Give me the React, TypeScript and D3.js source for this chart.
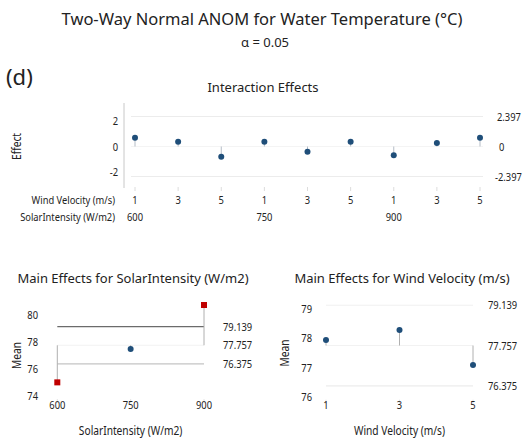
import React from "react";
import * as d3 from "d3";

// ---- data ----
const windLevels = [1, 3, 5];
const solarLevels = [600, 750, 900];
// interaction effects, ordered SolarIntensity-major (600: 1,3,5; 750: 1,3,5; 900: 1,3,5)
const interactionEffects = [0.7, 0.38, -0.82, 0.38, -0.42, 0.38, -0.7, 0.28, 0.7];
const effectLimit = 2.397;
const effectTicks = [-2, 0, 2];
const solarMeans = [75.01, 77.48, 80.74];
const windMeans = [77.95, 78.29, 77.09];
const grandMean = 77.757;
const upperLimit = 79.139;
const lowerLimit = 76.375;
const solarMeanTicks = [74, 76, 78, 80];
const windMeanTicks = [76, 77, 78, 79];

const FONT = "'Noto Sans', 'Open Sans', sans-serif";
const TFONT = "'Noto Sans', 'Open Sans', sans-serif";
const BLUE = "#1f4e79";
const RED = "#c00000";
const TXT = "#222";
const SQUEEZE = 0.85;

function fmt(v: number) {
  return v.toFixed(3);
}

type NTProps = {
  x: number;
  y: number;
  anchor?: "start" | "middle" | "end";
  size?: number;
  rotate?: number;
  children: React.ReactNode;
};

// narrow text: squeezed horizontally like the reference's condensed UI font
function NText({ x, y, anchor = "start", size = 11, rotate = 0, children }: NTProps) {
  const tr = rotate
    ? `translate(${x},${y}) rotate(${rotate}) scale(${SQUEEZE},1)`
    : `translate(${x},${y}) scale(${SQUEEZE},1)`;
  return (
    <text transform={tr} textAnchor={anchor} fontFamily={FONT} fontSize={size} fill={TXT}>
      {children}
    </text>
  );
}

function InteractionPanel() {
  const idx = interactionEffects.map((_, i) => i);
  const x = d3.scalePoint<number>().domain(idx).range([135, 480]);
  const y = d3.scaleLinear().domain([-effectLimit, effectLimit]).range([176.5, 116.5]);
  const x0 = 131, x1 = 483;
  return (
    <g>
      <text x={263} y={92} textAnchor="middle" fontFamily={TFONT} fontSize={13} fill={TXT}>
        Interaction Effects
      </text>
      <line x1={124} x2={124} y1={103} y2={188} stroke="#c8c8c8" />
      {effectTicks.map((t) => (
        <NText key={t} x={118} y={y(t) + 4} anchor="end">
          {t}
        </NText>
      ))}
      <NText x={21} y={y(0)} anchor="middle" size={12} rotate={-90}>
        Effect
      </NText>
      {[effectLimit, -effectLimit].map((l) => (
        <line key={l} x1={x0} x2={x1} y1={y(l)} y2={y(l)} stroke="#ececec" />
      ))}
      <line x1={x0} x2={x1} y1={y(0)} y2={y(0)} stroke="#f4f4f4" />
      <NText x={497} y={y(effectLimit) + 4}>{fmt(effectLimit)}</NText>
      <NText x={499} y={y(0) + 4}>0</NText>
      <NText x={495} y={y(-effectLimit) + 4}>{fmt(-effectLimit)}</NText>
      {interactionEffects.map((v, i) => (
        <g key={i}>
          <line x1={x(i)} x2={x(i)} y1={y(0)} y2={y(v)} stroke="#b4bcc6" />
          <circle cx={x(i)} cy={y(v)} r={3} fill={BLUE} />
          <line x1={x(i)} x2={x(i)} y1={187} y2={191} stroke="#dcdcdc" />
          <NText x={x(i)!} y={204} anchor="middle">
            {windLevels[i % windLevels.length]}
          </NText>
        </g>
      ))}
      {solarLevels.map((s, j) => (
        <NText key={s} x={x(j * windLevels.length)!} y={221} anchor="middle">
          {s}
        </NText>
      ))}
      <NText x={115} y={204} anchor="end">Wind Velocity (m/s)</NText>
      <NText x={115} y={221} anchor="end">SolarIntensity (W/m2)</NText>
    </g>
  );
}

type MainProps = {
  title: string;
  levels: number[];
  means: number[];
  ticks: number[];
  xTitle: string;
  xRange: [number, number];
  yDomain: [number, number];
  yRange: [number, number];
  titleX: number;
  tickX: number;
  meanX: number;
  labelX: number;
  upperStroke: string;
  lowerStroke: string;
};

function MainPanel(p: MainProps) {
  const x = d3.scalePoint<number>().domain(p.levels).range(p.xRange);
  const y = d3.scaleLinear().domain(p.yDomain).range(p.yRange);
  const lx0 = p.xRange[0], lx1 = p.xRange[1];
  const midY = (p.yRange[0] + p.yRange[1]) / 2;
  return (
    <g>
      <text x={p.titleX} y={283} textAnchor="middle" fontFamily={TFONT} fontSize={13} fill={TXT}>
        {p.title}
      </text>
      {p.ticks.map((t) => (
        <NText key={t} x={p.tickX} y={y(t) + 4} anchor="end">
          {t}
        </NText>
      ))}
      <NText x={p.meanX} y={midY} anchor="middle" size={12} rotate={-90}>
        Mean
      </NText>
      <line x1={lx0} x2={lx1} y1={y(upperLimit)} y2={y(upperLimit)} stroke={p.upperStroke} strokeWidth={1.2} />
      <line x1={lx0} x2={lx1} y1={y(lowerLimit)} y2={y(lowerLimit)} stroke={p.lowerStroke} strokeWidth={1.2} />
      <line x1={lx0} x2={lx1} y1={y(grandMean)} y2={y(grandMean)} stroke="#f2f2f2" />
      {[upperLimit, grandMean, lowerLimit].map((l) => (
        <NText key={l} x={p.labelX} y={y(l) + 4}>
          {fmt(l)}
        </NText>
      ))}
      {p.levels.map((lv, i) => {
        const v = p.means[i];
        const out = v > upperLimit || v < lowerLimit;
        return (
          <g key={lv}>
            <line x1={x(lv)} x2={x(lv)} y1={y(grandMean)} y2={y(v)} stroke="#b0b0b0" />
            {out ? (
              <rect x={x(lv)! - 3} y={y(v) - 3} width={6} height={6} fill={RED} />
            ) : (
              <circle cx={x(lv)} cy={y(v)} r={3} fill={BLUE} />
            )}
            <line x1={x(lv)} x2={x(lv)} y1={p.yRange[0] + 3} y2={p.yRange[0] + 7} stroke="#e4e4e4" />
            <NText x={x(lv)!} y={409} anchor="middle">
              {lv}
            </NText>
          </g>
        );
      })}
      <NText x={(lx0 + lx1) / 2} y={435} anchor="middle" size={12}>
        {p.xTitle}
      </NText>
    </g>
  );
}

export default function App() {
  return (
    <div style={{ position: "fixed", left: 0, top: 0 }}>
      <svg width={531} height={443} style={{ display: "block", background: "#fff" }}>
        <rect width={531} height={443} fill="#fff" />
        <text x={262} y={25} textAnchor="middle" fontFamily={TFONT} fontSize={16.5} fill={TXT}>
          Two-Way Normal ANOM for Water Temperature (°C)
        </text>
        <text x={265} y={47} textAnchor="middle" fontFamily={TFONT} fontSize={13} fill={TXT}>
          α = 0.05
        </text>
        <text x={6} y={85} fontFamily={TFONT} fontSize={22} fill={TXT}>
          (d)
        </text>
        <InteractionPanel />
        <MainPanel
          title="Main Effects for SolarIntensity (W/m2)"
          levels={solarLevels}
          means={solarMeans}
          ticks={solarMeanTicks}
          xTitle="SolarIntensity (W/m2)"
          xRange={[57.3, 204]}
          yDomain={[74, 80]}
          yRange={[396, 315]}
          titleX={133}
          tickX={38}
          meanX={21}
          labelX={223}
          upperStroke="#6b6b6b"
          lowerStroke="#c4c4c4"
        />
        <MainPanel
          title="Main Effects for Wind Velocity (m/s)"
          levels={windLevels}
          means={windMeans}
          ticks={windMeanTicks}
          xTitle="Wind Velocity (m/s)"
          xRange={[326, 473]}
          yDomain={[76, 79]}
          yRange={[396.7, 309.3]}
          titleX={402}
          tickX={312}
          meanX={289}
          labelX={488}
          upperStroke="#f0f0f0"
          lowerStroke="#ececec"
        />
      </svg>
    </div>
  );
}
